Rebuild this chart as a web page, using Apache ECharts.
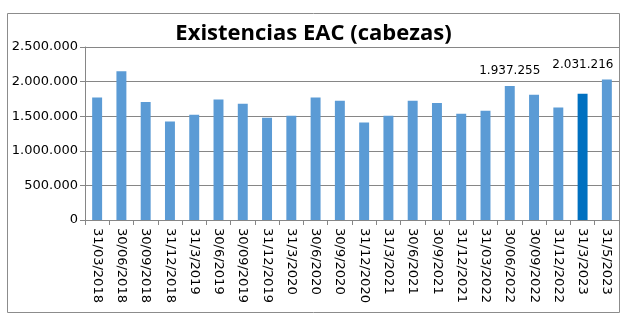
<!DOCTYPE html>
<html><head><meta charset="utf-8">
<script src="https://cdn.jsdelivr.net/npm/echarts@6/dist/echarts.min.js"></script>
<style>html,body{margin:0;padding:0;background:#fff}#c{width:627px;height:325px}</style>
</head><body><div id="c"></div>
<script>
const categories = ["31/03/2018","30/06/2018","30/09/2018","31/12/2018","31/3/2019","30/6/2019","30/09/2019","31/12/2019","31/3/2020","30/6/2020","30/9/2020","31/12/2020","31/3/2021","30/6/2021","30/9/2021","31/12/2021","31/03/2022","30/06/2022","30/09/2022","31/12/2022","31/3/2023","31/5/2023"];
const values = [1770000,2148000,1704000,1424000,1520000,1742000,1680000,1477000,1506000,1771000,1723000,1409000,1506000,1723000,1689000,1535000,1578000,1937255,1810000,1626000,1824000,2031216];
const labelledIdx = [17, 21];
const highlightIdx = [20];
const yTicks = {min: 0, max: 2500000, interval: 500000};

const fmt = v => String(Math.round(v)).replace(/\B(?=(\d{3})+(?!\d))/g, '.');
const chart = echarts.init(document.getElementById('c'));
chart.setOption({
  animation: false,
  title: {text: 'Existencias EAC (cabezas)', left: 'center', top: 18,
    textStyle: {fontFamily: 'Open Sans', fontWeight: 'bold', fontSize: 22, color: '#000'}},
  graphic: [{type: 'rect', shape: {x: 7.5, y: 13.5, width: 612, height: 299},
    style: {fill: 'none', stroke: '#8c8c8c', lineWidth: 1}, silent: true}],
  grid: {left: 85, right: 8, top: 47, bottom: 105},
  xAxis: {type: 'category', data: categories,
    axisLine: {lineStyle: {color: '#868686'}},
    axisTick: {show: true, length: 5, lineStyle: {color: '#868686'}},
    axisLabel: {rotate: -90, interval: 0, fontFamily: 'DejaVu Sans', fontSize: 13, color: '#000', margin: 8}},
  yAxis: {type: 'value', min: yTicks.min, max: yTicks.max, interval: yTicks.interval,
    axisLine: {show: true, lineStyle: {color: '#868686'}},
    axisTick: {show: true, length: 5, lineStyle: {color: '#868686'}},
    splitLine: {lineStyle: {color: '#868686'}},
    axisLabel: {formatter: fmt, fontFamily: 'DejaVu Sans', fontSize: 13, color: '#000', margin: 7}},
  series: [{type: 'bar', barWidth: '41%',
    data: values.map((v, i) => ({value: v,
      itemStyle: {color: highlightIdx.includes(i) ? '#0070C0' : '#5B9BD5'},
      label: {show: labelledIdx.includes(i), position: 'top', distance: 9,
        offset: i === values.length - 1 ? [-24, 0] : [0, 0],
        formatter: p => fmt(p.value), fontFamily: 'DejaVu Sans', fontSize: 12, color: '#000'}}))}]
});
</script></body></html>
